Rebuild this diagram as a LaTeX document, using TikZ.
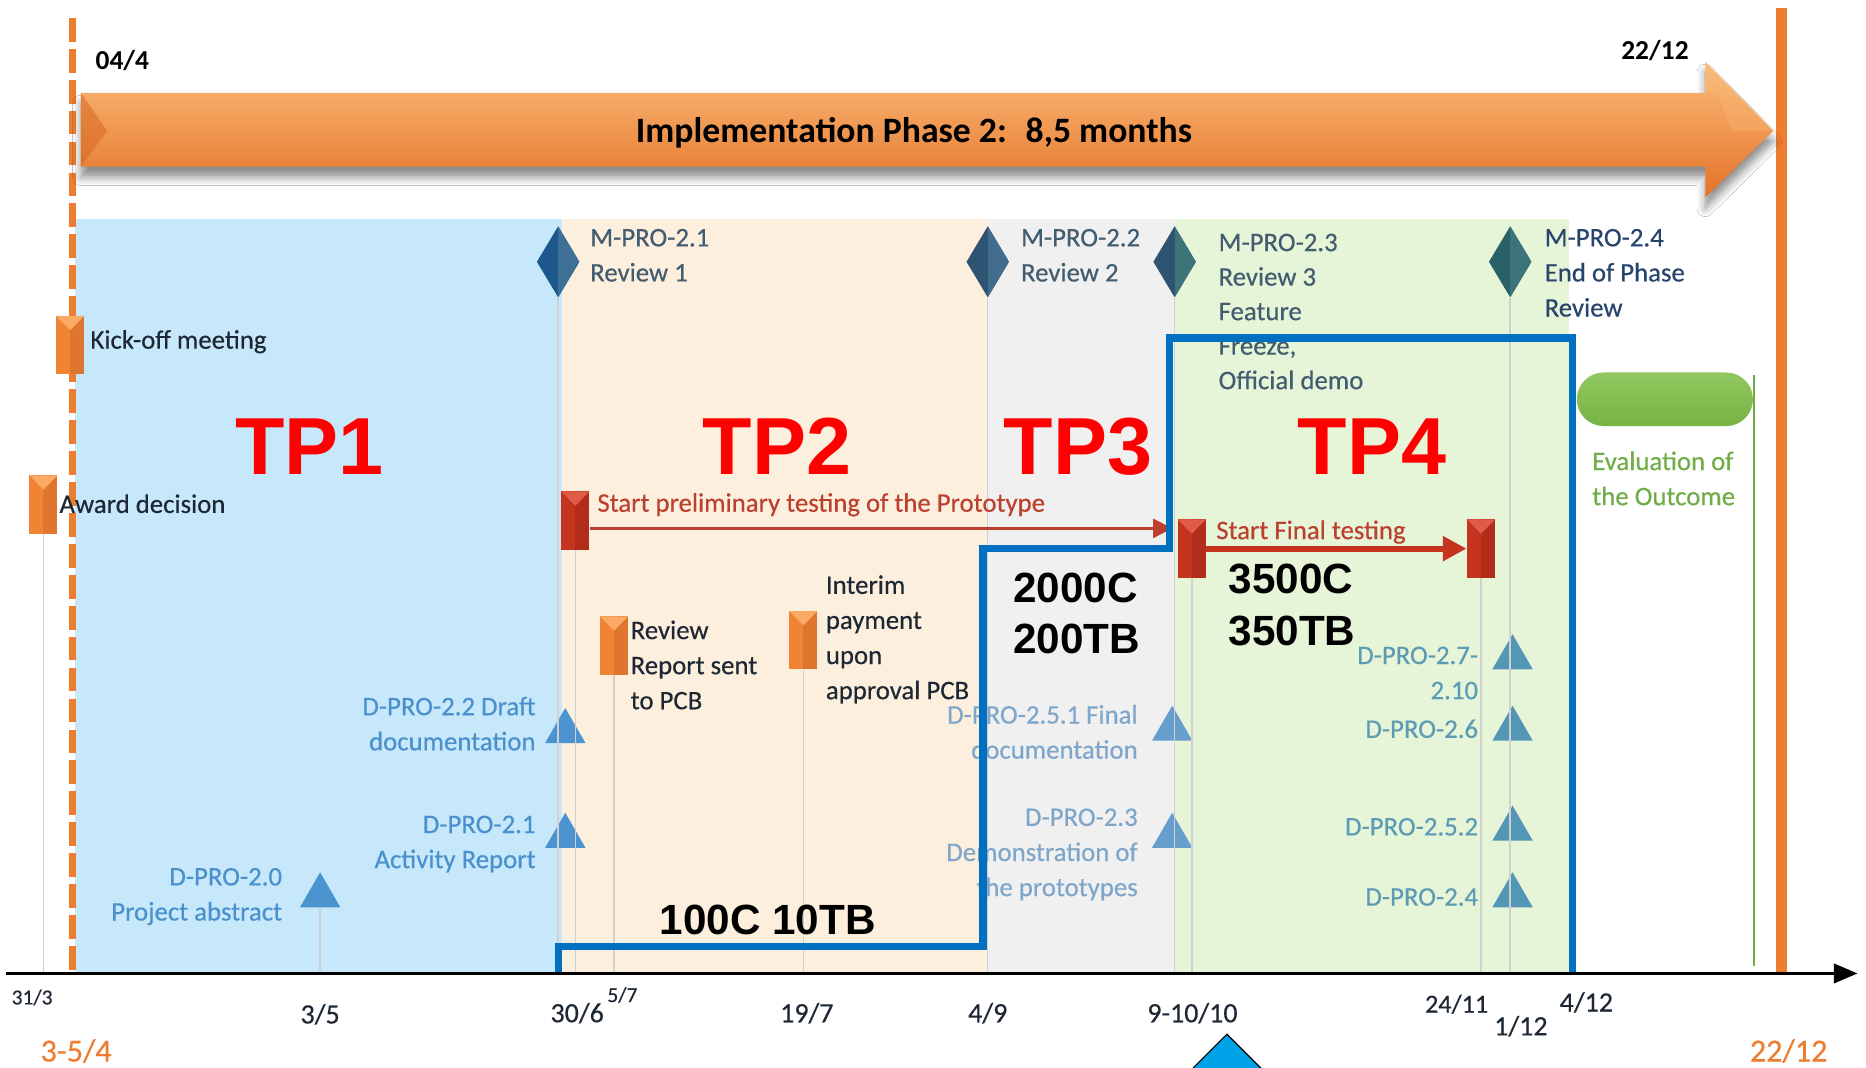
\documentclass[tikz,border=0pt]{standalone}
\usepackage{fontspec}
\setmainfont{Carlito}
\newfontfamily\calibtext{Carlito}[FakeBold=0.4]
\newfontfamily\arialfont{Liberation Sans}
\usetikzlibrary{shapes.geometric,arrows.meta,shadows.blur}

\definecolor{phaseorange}{RGB}{237,125,49}
\definecolor{orangelight}{RGB}{251,188,122}
\definecolor{orangedark}{RGB}{228,114,40}
\definecolor{bevelorange}{RGB}{214,104,34}
\definecolor{bgblue}{RGB}{198,232,250}
\definecolor{bgpeach}{RGB}{253,239,221}
\definecolor{bggray}{RGB}{240,240,240}
\definecolor{bggreen}{RGB}{230,244,216}
\definecolor{boxblue}{RGB}{0,112,192}
\definecolor{tpred}{RGB}{255,0,0}
\definecolor{markred}{RGB}{196,52,30}
\definecolor{markreddark}{RGB}{178,44,26}
\definecolor{markredlight}{RGB}{224,92,70}
\definecolor{testred}{RGB}{188,64,46}
\definecolor{markorange}{RGB}{240,132,52}
\definecolor{markorangedark}{RGB}{222,118,48}
\definecolor{markorangelight}{RGB}{250,170,100}
\definecolor{milestonetext}{RGB}{66,92,112}
\definecolor{endtext}{RGB}{38,68,108}
\definecolor{darktext}{RGB}{30,40,52}
\definecolor{delivblue}{RGB}{74,144,205}
\definecolor{delivpale}{RGB}{126,166,202}
\definecolor{delivteal}{RGB}{92,155,180}
\definecolor{trifill}{RGB}{76,148,208}
\definecolor{trifillpale}{RGB}{104,158,205}
\definecolor{trifillteal}{RGB}{84,150,182}
\definecolor{evalgreen}{RGB}{112,173,71}
\definecolor{pillgreen}{RGB}{118,178,68}
\definecolor{pilllight}{RGB}{146,200,96}
\definecolor{guidegray}{RGB}{208,208,208}
\definecolor{diamblue}{RGB}{28,88,140}
\definecolor{diambluelight}{RGB}{62,112,150}
\definecolor{diamslate}{RGB}{46,84,114}
\definecolor{diamslatelight}{RGB}{66,108,140}
\definecolor{diamteal}{RGB}{42,96,104}
\definecolor{diamteallight}{RGB}{60,116,122}
\definecolor{cyanmark}{RGB}{0,162,232}

\begin{document}
\begin{tikzpicture}[x=0.5pt,y=-0.5pt,
  txt/.style={inner sep=0, outer sep=0, font=\calibtext\fontsize{11.25}{14.75}\selectfont, align=left},
  ltxt/.style={txt, anchor=base west},
  rtxt/.style={txt, align=right, anchor=base east},
  axlbl/.style={inner sep=0, anchor=base, text=darktext, font=\calibtext\fontsize{11.75}{14}\selectfont},
  tplabel/.style={inner sep=0, anchor=base, text=tpred, font=\arialfont\bfseries\fontsize{34}{40}\selectfont},
  qty/.style={inner sep=0, anchor=base, text=black, align=center, font=\arialfont\bfseries\fontsize{17.75}{21.5}\selectfont},
  flagmark/.style n args={3}{rectangle, minimum width=11.75pt, minimum height=24.5pt, inner sep=0, fill=#1,
    path picture={
      \fill[#2] (path picture bounding box.north) rectangle (path picture bounding box.south east);
      \fill[#3] (path picture bounding box.north west) -- (path picture bounding box.north east)
        -- ([yshift=-6pt]path picture bounding box.north) -- cycle;}},
  orangeflag/.style={flagmark={markorange}{markorangedark}{markorangelight}},
  redflag/.style={flagmark={markred}{markreddark}{markredlight}},
  milestone/.style 2 args={diamond, minimum width=18pt, minimum height=30pt, inner sep=0, fill=#1,
    path picture={\fill[#2] (path picture bounding box.north) rectangle (path picture bounding box.south east);}},
  deliv/.style={regular polygon, regular polygon sides=3, minimum size=19.6pt, inner sep=0, fill=#1},
  guide/.style={guidegray, line width=0.6pt},
]

% canvas
\clip (0,0) rectangle (1568,897);
\fill[white] (0,0) rectangle (1568,897);

% phase backgrounds
\fill[bgblue]  (63,184)  rectangle (472,818);
\fill[bgpeach] (472,184) rectangle (830,818);
\fill[bggray]  (830,184) rectangle (987,818);
\fill[bggreen] (987,184) rectangle (1318,818);

% time axis anchors
\coordinate (axstart) at (5,818);
\coordinate (axend) at (1561,818);

% project start / end lines
\draw[phaseorange, line width=3pt, dash pattern=on 10pt off 3pt] (61,15) -- (61,818);
\draw[phaseorange, line width=5pt] (1497,7) -- (1497,818);

% implementation phase arrow
\shade[top color=orangelight, middle color=phaseorange, bottom color=orangedark,
  blur shadow={shadow xshift=0pt, shadow yshift=-4.5pt, shadow opacity=45, shadow blur radius=3.5pt}]
  (68,78) -- (1433,78) -- (1433,52) -- (1490,110) -- (1433,166) -- (1433,140) -- (68,140) -- cycle;
\fill[bevelorange, opacity=0.55] (68,78) -- (90,110) -- (68,140) -- cycle;
\fill[orangelight, opacity=0.35] (1433,52) -- (1490,110) -- (1455,110) -- (1443,78) -- (1433,78) -- cycle;
\node[inner sep=0, anchor=base, font=\bfseries\fontsize{15}{18}\selectfont] (phase) at (768,120)
  {Implementation Phase 2:~ 8,5 months};
\node[inner sep=0, anchor=base west, font=\bfseries\fontsize{11.5}{14}\selectfont] (startdate) at (80,58) {04/4};
\node[inner sep=0, anchor=base west, font=\bfseries\fontsize{11.5}{14}\selectfont] (enddate) at (1362,50) {22/12};

% milestone diamonds
\node[milestone={diamblue}{diambluelight}]   (m21) at (469,220) {};
\node[milestone={diamslate}{diamslatelight}] (m22) at (830,220) {};
\node[milestone={diamslate}{diamteallight}]  (m23) at (987,220) {};
\node[milestone={diamteal}{diamteallight}]   (m24) at (1269,220) {};

% markers
\node[orangeflag] (kickoff) at (59,290) {};
\node[orangeflag] (award) at (36.5,424) {};
\node[redflag] (prelim) at (483.5,437.5) {};
\node[orangeflag] (review) at (516,542.5) {};
\node[orangeflag] (interim) at (675,538) {};
\node[redflag] (final1) at (1001.5,461) {};
\node[redflag] (final2) at (1244.5,461) {};

% deliverable triangles
\node[deliv=trifill]      (d20)  at (269,752.6) {};
\node[deliv=trifill]      (d22)  at (475,614.6) {};
\node[deliv=trifill]      (d21)  at (475,702.6) {};
\node[deliv=trifillpale]  (d251) at (985,612.6) {};
\node[deliv=trifillpale]  (d23)  at (985,702.6) {};
\node[deliv=trifillteal]  (d27)  at (1271,552.6) {};
\node[deliv=trifillteal]  (d26)  at (1271,612.6) {};
\node[deliv=trifillteal]  (d252) at (1271,696.6) {};
\node[deliv=trifillteal]  (d24)  at (1271,752.6) {};

% guide lines down to the axis
\draw[guide] (award.south) -- (award.south |- axstart);
\draw[guide] (d20.south) -- (d20.south |- axstart);
\draw[guide] (m21.south) -- (m21.south |- axstart);
\draw[guide] (prelim.south) -- (prelim.south |- axstart);
\draw[guide] (review.south) -- (review.south |- axstart);
\draw[guide] (interim.south) -- (interim.south |- axstart);
\draw[guide] (m22.south) -- (m22.south |- axstart);
\draw[guide] (m23.south) -- (m23.south |- axstart);
\draw[guide] (final1.south) -- (final1.south |- axstart);
\draw[guide] (final2.south) -- (final2.south |- axstart);
\draw[guide] (m24.south) -- (m24.south |- axstart);

% milestone texts (anchored at the baseline of their last line)
\node[ltxt, text=milestonetext] (t21) at (496,236.5) {M-PRO-2.1\\Review 1};
\node[ltxt, text=milestonetext] (t22) at (858,236.5) {M-PRO-2.2\\Review 2};
\node[ltxt, text=milestonetext, font=\calibtext\fontsize{11.25}{14.5}\selectfont] (t23) at (1024,327)
  {M-PRO-2.3\\Review 3\\Feature\\Freeze,\\Official demo};
\node[ltxt, text=endtext] (t24) at (1298,266) {M-PRO-2.4\\End of Phase\\Review};

% event texts
\node[ltxt, text=darktext] (tkick) at (76,293) {Kick-off meeting};
\node[ltxt, text=darktext] (taward) at (50,431) {Award decision};
\node[ltxt, text=testred] (tprelim) at (502,430)
  {Start preliminary testing of the Prototype};
\node[ltxt, text=testred] (tfinal) at (1022,453) {Start Final testing};
\node[ltxt, text=darktext] (treview) at (530,596) {Review\\Report sent\\to PCB};
\node[ltxt, text=darktext] (tinterim) at (694,587.5) {Interim\\payment\\upon\\approval PCB};

% deliverable texts
\node[rtxt, text=delivblue] (td20) at (237,773.5) {D-PRO-2.0\\Project abstract};
\node[rtxt, text=delivblue] (td22) at (450,630.5) {D-PRO-2.2 Draft\\documentation};
\node[rtxt, text=delivblue] (td21) at (450,729.5) {D-PRO-2.1\\Activity Report};
\node[rtxt, text=delivpale] (td251) at (956,637.5) {D-PRO-2.5.1 Final\\documentation};
\node[rtxt, text=delivpale] (td23) at (956,753) {D-PRO-2.3\\Demonstration of\\the prototypes};
\node[rtxt, text=delivteal] (td27) at (1242,587.5) {D-PRO-2.7-\\2.10};
\node[rtxt, text=delivteal] (td26) at (1242,620) {D-PRO-2.6};
\node[rtxt, text=delivteal] (td252) at (1242,702) {D-PRO-2.5.2};
\node[rtxt, text=delivteal] (td24) at (1242,761) {D-PRO-2.4};

% testing arrows
\coordinate (prelimend) at (985,444);
\draw[testred, line width=1pt, -{Triangle[length=8pt,width=8pt]}] (prelimend -| prelim.east) -- (prelimend);
\draw[markred, line width=2.6pt, -{Triangle[length=10pt,width=10pt]}] (final1.east) -- (final2.west);

% outcome evaluation
\node[rectangle, rounded corners=11.25pt, minimum width=74pt, minimum height=22.5pt, inner sep=0,
  top color=pilllight, bottom color=pillgreen] (pill) at (1399,335.5) {};
\coordinate (evaltop) at (1474,315);
\draw[evalgreen, line width=0.8pt] (evaltop) -- (evaltop |- 0,812);
\node[ltxt, text=evalgreen] (teval) at (1338,424.5) {Evaluation of\\the Outcome};

% test phase labels
\node[tplabel] (tp1) at (260,399) {TP1};
\node[tplabel] (tp2) at (653,399) {TP2};
\node[tplabel] (tp3) at (906,399) {TP3};
\node[tplabel] (tp4) at (1153,399) {TP4};

% quantities
\node[qty] (q1) at (645,785) {100C 10TB};
\node[qty, anchor=base west] (q2) at (851,506) {2000C};
\node[qty, anchor=base west] (q2b) at (851,549) {200TB};
\node[qty, anchor=base west] (q3) at (1032,499) {3500C};
\node[qty, anchor=base west] (q3b) at (1032,542) {350TB};

% stepped outline of the growing test scope
\draw[boxblue, line width=3pt, line join=miter]
  (469,818) -- (469,795) -- (826,795) -- (826,461) -- (983,461) -- (983,284)
  -- (1321,284) -- (1321,818);

% time axis
\draw[black, line width=1.6pt, -{Triangle[length=10pt,width=8pt]}] (axstart) -- (axend);

% axis dates
\node[axlbl, font=\calibtext\fontsize{9}{11}\selectfont] (a313) at (27,844) {31/3};
\node[axlbl] (a35) at (269,860) {3/5};
\node[axlbl] (a306) at (485,859) {30/6};
\node[axlbl, font=\calibtext\fontsize{9}{11}\selectfont] (a57) at (523,842) {5/7};
\node[axlbl] (a197) at (678,859) {19/7};
\node[axlbl] (a49) at (830,859) {4/9};
\node[axlbl] (a910) at (1002,859) {9-10/10};
\node[axlbl, font=\calibtext\fontsize{11}{13}\selectfont] (a2411) at (1224,851) {24/11};
\node[axlbl] (a112) at (1278,870) {1/12};
\node[axlbl] (a412) at (1333,850) {4/12};
\node[axlbl, text=phaseorange, font=\calibtext\fontsize{13.5}{16}\selectfont] (a354) at (64,892) {3-5/4};
\node[axlbl, text=phaseorange, font=\calibtext\fontsize{13.5}{16}\selectfont] (a2212) at (1503,892) {22/12};

% pointer below the axis
\filldraw[fill=cyanmark, draw=black, line width=0.5pt] (1031,869) -- (991,909) -- (1071,909) -- cycle;
\end{tikzpicture}
\end{document}
